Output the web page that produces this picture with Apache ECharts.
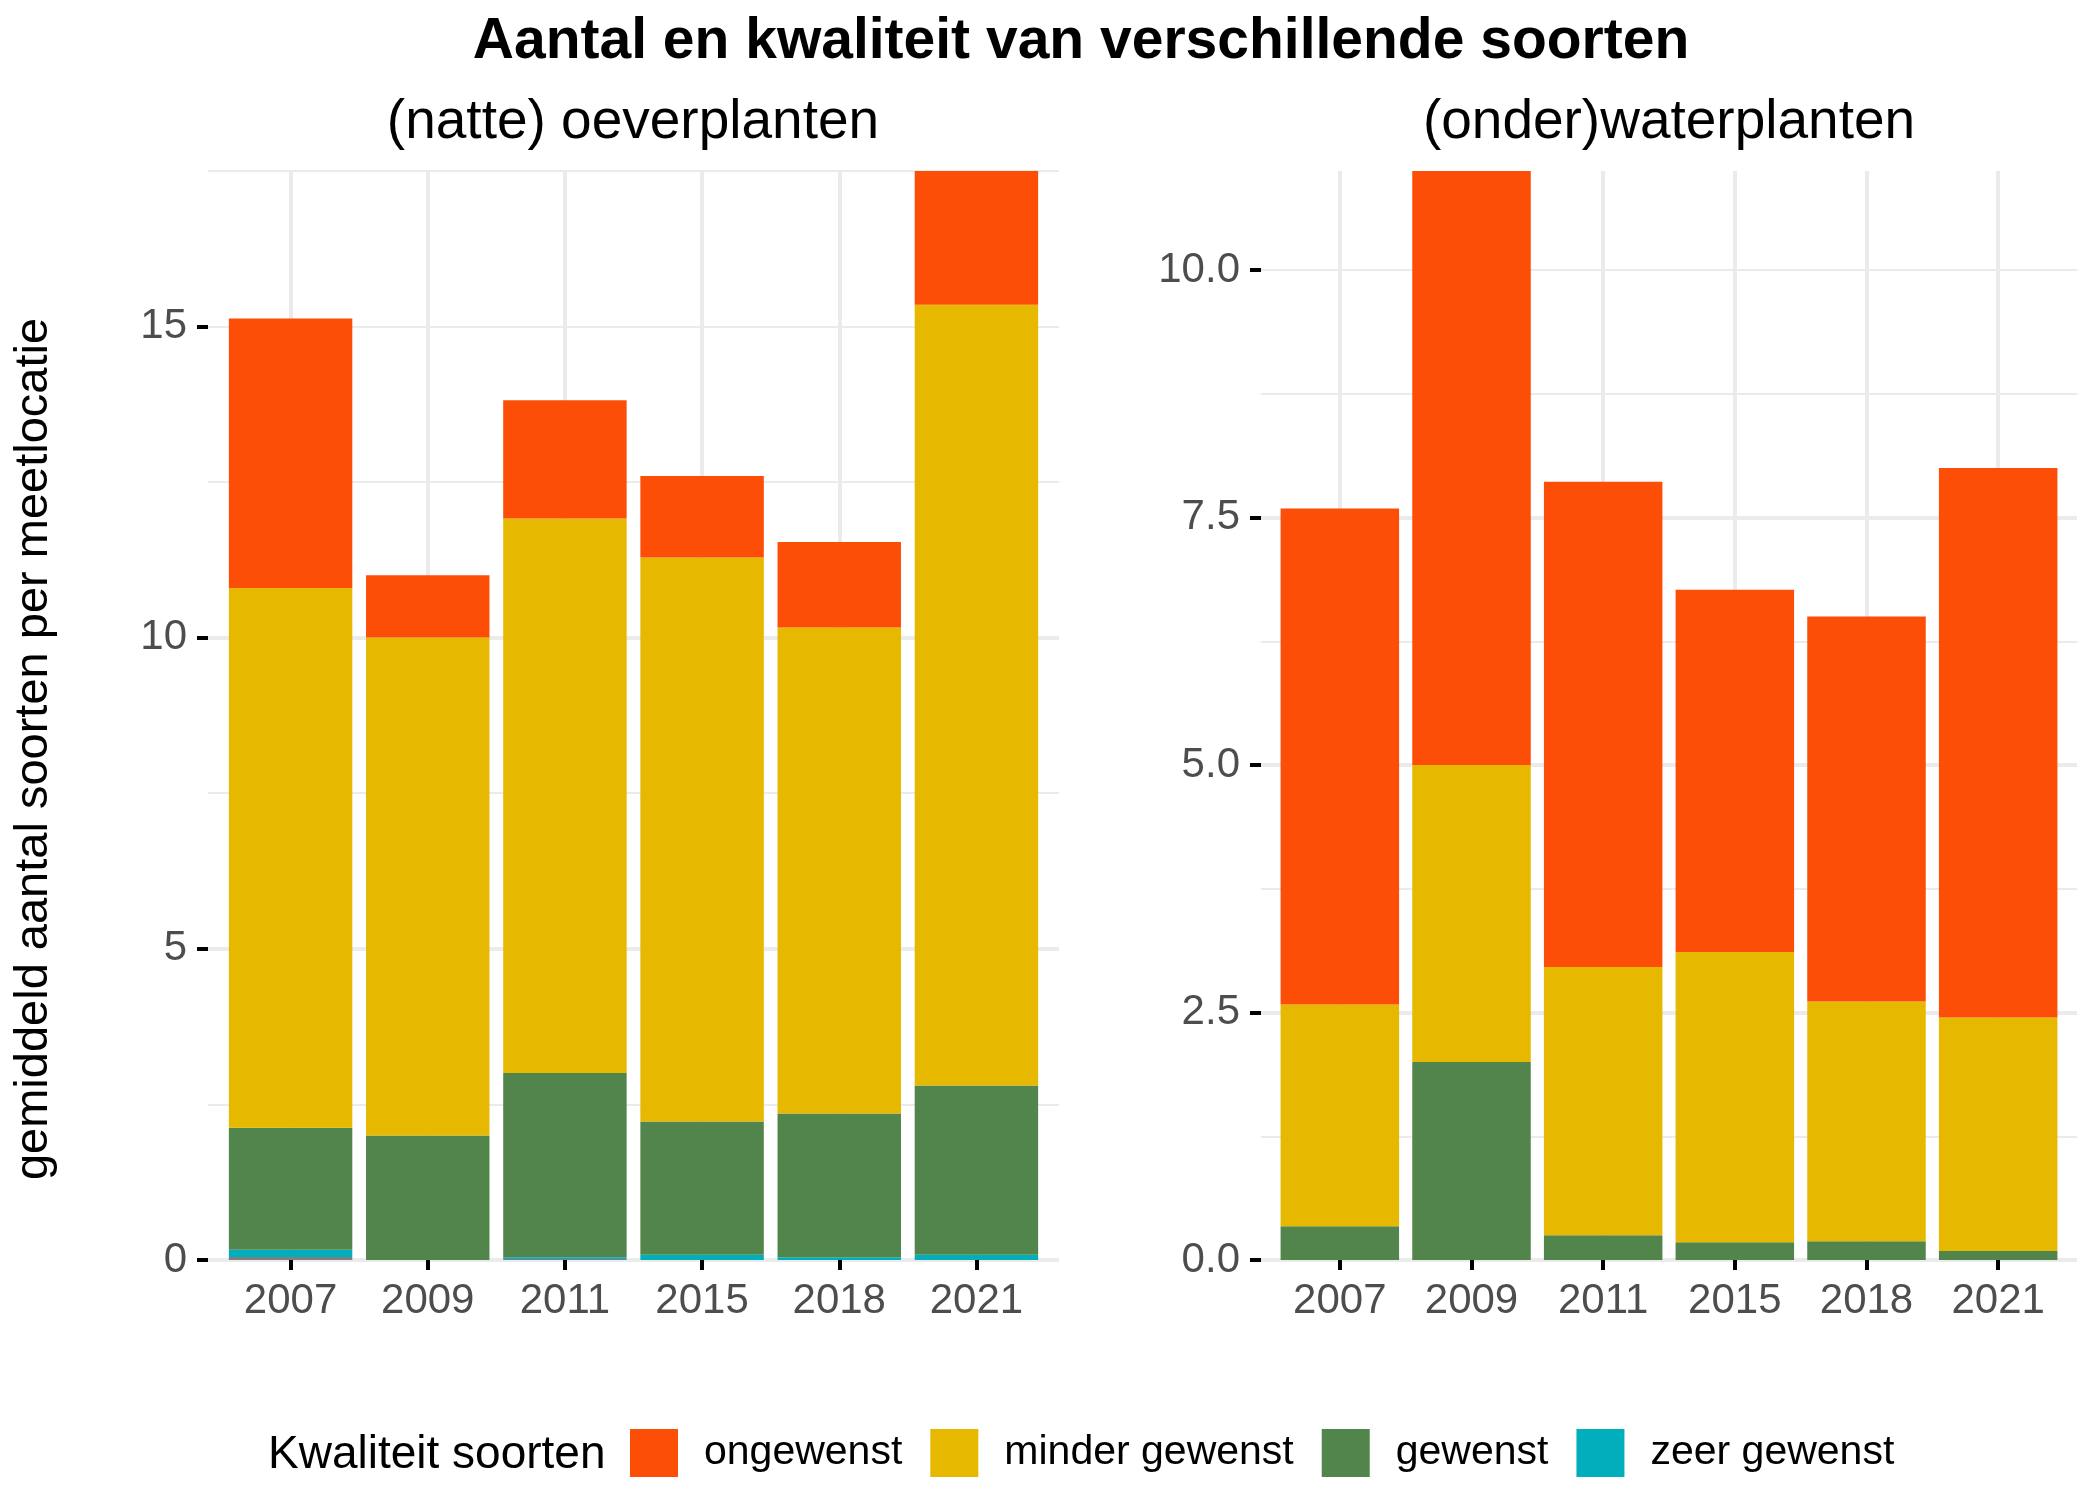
<!DOCTYPE html>
<html>
<head>
<meta charset="utf-8">
<script src="https://cdn.jsdelivr.net/npm/echarts@6/dist/echarts.min.js"></script>
<style>html,body{margin:0;padding:0;background:#fff}#c{width:2100px;height:1500px}</style>
</head>
<body>
<div id="c"></div>
<script>
// ---- data ----
const years = ['2007', '2009', '2011', '2015', '2018', '2021'];

// (natte) oeverplanten
const oeverOnbekend      = [0.05, 0, 0.016, 0, 0, 0];
const oeverZeerGewenst   = [0.115, 0, 0.027, 0.085, 0.043, 0.085];
const oeverGewenst       = [1.96, 2.0, 2.96, 2.14, 2.31, 2.72];
const oeverMinderGewenst = [8.67, 8.0, 8.91, 9.06, 7.81, 12.54];
const oeverOngewenst     = [4.33, 1.0, 1.90, 1.31, 1.37, 2.15];

// (onder)waterplanten
const waterGewenst       = [0.34, 2.0, 0.25, 0.18, 0.19, 0.09];
const waterMinderGewenst = [2.24, 3.0, 2.71, 2.93, 2.42, 2.36];
const waterOngewenst     = [5.01, 6.0, 4.90, 3.66, 3.89, 5.55];

const oeverTicks = [0, 5, 10, 15];
const waterTicks = [0, 2.5, 5, 7.5, 10];

const categoryNames = ['ongewenst', 'minder gewenst', 'gewenst', 'zeer gewenst'];

// ---- chart ----
const FONT = '"Liberation Sans", Arial, sans-serif';
const COL = {
  'ongewenst': '#FC4E07',
  'minder gewenst': '#E7B800',
  'gewenst': '#52854C',
  'zeer gewenst': '#00AFBB',
  'onbekend': '#7F7F7F'
};
function stackMax(arrs) {
  return Math.max(...years.map((_, i) => arrs.reduce((s, a) => s + a[i], 0)));
}
const oeverMax = stackMax([oeverOnbekend, oeverZeerGewenst, oeverGewenst, oeverMinderGewenst, oeverOngewenst]);
const waterMax = stackMax([waterGewenst, waterMinderGewenst, waterOngewenst]);

const TOP = 171, H = 1089;
const GRIDC = '#EBEBEB';
const tickLine = { color: '#000', width: 4 };
const labelStyle = { fontSize: 42, color: '#4D4D4D', fontFamily: FONT };

function catAxis(gi) {
  return {
    gridIndex: gi, type: 'category', data: years,
    axisLine: { show: false },
    axisTick: { show: true, alignWithLabel: true, length: 10, lineStyle: tickLine },
    axisLabel: Object.assign({ margin: 20 }, labelStyle),
    splitLine: { show: true, alignWithLabel: true, lineStyle: { color: GRIDC, width: 4 } }
  };
}
function majorAxis(gi, max, ticks, fmt) {
  return {
    gridIndex: gi, type: 'value', min: 0, max: max, interval: ticks[1] - ticks[0],
    axisLine: { show: false },
    axisTick: { show: true, length: 11, lineStyle: tickLine, customValues: ticks },
    axisLabel: Object.assign({ margin: 21, customValues: ticks, formatter: fmt }, labelStyle),
    splitLine: { show: true, showMaxLine: false, lineStyle: { color: GRIDC, width: 4 } }
  };
}
function minorAxis(gi, max, step, showMax) {
  return {
    gridIndex: gi, type: 'value', min: 0, max: max, interval: step, position: 'left',
    axisLine: { show: false }, axisTick: { show: false }, axisLabel: { show: false },
    splitLine: { show: true, showMaxLine: showMax, lineStyle: { color: GRIDC, width: 2 } }
  };
}
function barSeries(name, data, xi, yi, stack) {
  return {
    type: 'bar', name: name, data: data, xAxisIndex: xi, yAxisIndex: yi, stack: stack,
    barCategoryGap: '10%', itemStyle: { color: COL[name] }, emphasis: { disabled: true }
  };
}

const option = {
  animation: false,
  backgroundColor: '#fff',
  title: [
    { text: 'Aantal en kwaliteit van verschillende soorten', left: 1081, top: 14, textAlign: 'center', padding: 0,
      textStyle: { fontSize: 57, fontWeight: 'bold', color: '#000', fontFamily: FONT } },
    { text: '(natte) oeverplanten', left: 633, top: 95, textAlign: 'center', padding: 0,
      textStyle: { fontSize: 55, fontWeight: 'normal', color: '#000', fontFamily: FONT } },
    { text: '(onder)waterplanten', left: 1669, top: 95, textAlign: 'center', padding: 0,
      textStyle: { fontSize: 55, fontWeight: 'normal', color: '#000', fontFamily: FONT } },
    { text: 'Kwaliteit soorten', left: 268, top: 1432, padding: 0,
      textStyle: { fontSize: 46, fontWeight: 'normal', color: '#000', fontFamily: FONT } }
  ],
  legend: {
    data: categoryNames, left: 630, top: 1429, padding: 0, orient: 'horizontal',
    itemWidth: 48, itemHeight: 48, itemGap: 28, icon: 'rect', selectedMode: false,
    textStyle: { fontSize: 41, color: '#000', fontFamily: FONT, padding: [0, 0, 0, 21] }
  },
  graphic: [
    { type: 'text', x: 34, y: 749, rotation: Math.PI / 2,
      style: { text: 'gemiddeld aantal soorten per meetlocatie', fill: '#000',
        font: '47px "Liberation Sans", Arial, sans-serif', textAlign: 'center', textVerticalAlign: 'middle' } }
  ],
  grid: [
    { left: 208, top: TOP, width: 851, height: H },
    { left: 222, top: TOP, width: 823, height: H },
    { left: 1261, top: TOP, width: 816, height: H },
    { left: 1274, top: TOP, width: 790, height: H }
  ],
  xAxis: [
    { gridIndex: 0, type: 'value', show: false },
    catAxis(1),
    { gridIndex: 2, type: 'value', show: false },
    catAxis(3)
  ],
  yAxis: [
    majorAxis(0, oeverMax, oeverTicks, v => String(v)),
    minorAxis(0, oeverMax, 2.5, true),
    { gridIndex: 1, type: 'value', min: 0, max: oeverMax, show: false, splitLine: { show: false } },
    majorAxis(2, waterMax, waterTicks, v => Number(v).toFixed(1)),
    minorAxis(2, waterMax, 1.25, false),
    { gridIndex: 3, type: 'value', min: 0, max: waterMax, show: false, splitLine: { show: false } }
  ],
  series: [
    barSeries('onbekend', oeverOnbekend, 1, 2, 'oever'),
    barSeries('zeer gewenst', oeverZeerGewenst, 1, 2, 'oever'),
    barSeries('gewenst', oeverGewenst, 1, 2, 'oever'),
    barSeries('minder gewenst', oeverMinderGewenst, 1, 2, 'oever'),
    barSeries('ongewenst', oeverOngewenst, 1, 2, 'oever'),
    barSeries('gewenst', waterGewenst, 3, 5, 'water'),
    barSeries('minder gewenst', waterMinderGewenst, 3, 5, 'water'),
    barSeries('ongewenst', waterOngewenst, 3, 5, 'water')
  ]
};
const chart = echarts.init(document.getElementById('c'));
chart.setOption(option);
</script>
</body>
</html>
